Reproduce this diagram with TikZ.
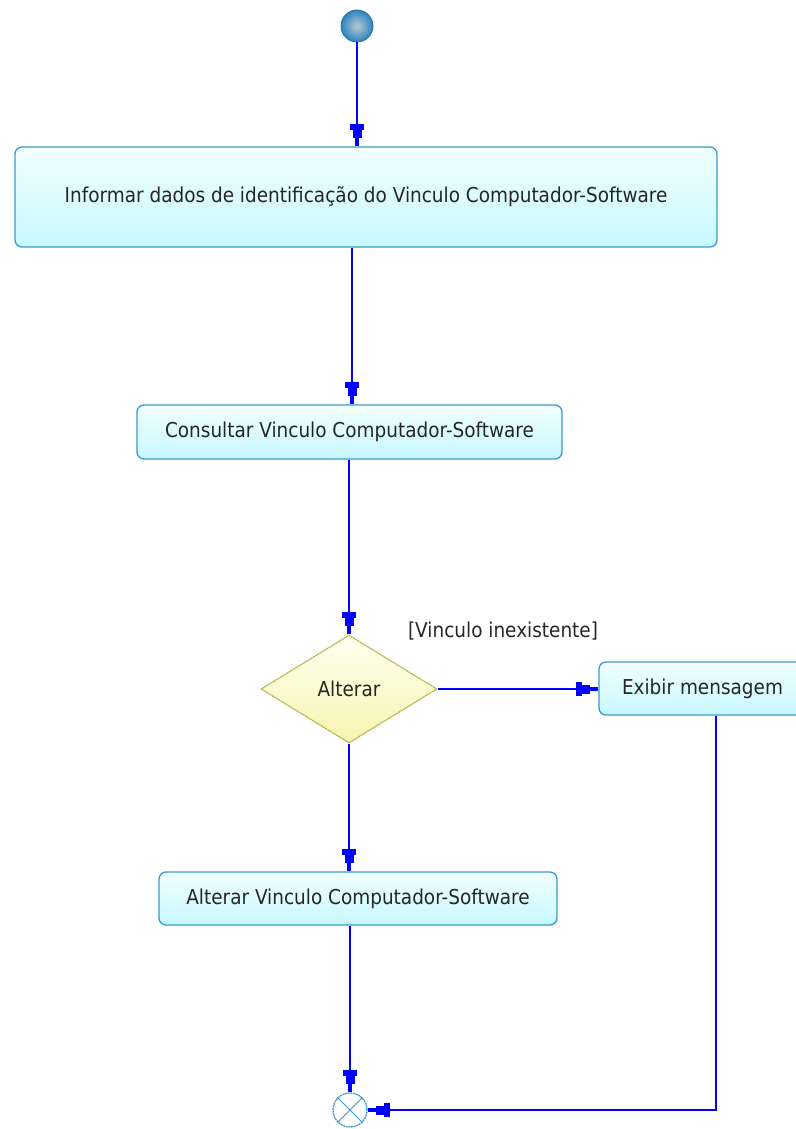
\documentclass[tikz,border=0pt]{standalone}
\usepackage{fontspec}
\setmainfont{DejaVu Sans}[FakeStretch=0.9]
\usetikzlibrary{arrows.meta,shapes.geometric}
\definecolor{boxline}{HTML}{3A9AD0}
\definecolor{boxtop}{HTML}{F2FFFF}
\definecolor{boxbot}{HTML}{C6F8FF}
\definecolor{dline}{HTML}{B4B44A}
\definecolor{dtop}{HTML}{FFFFF0}
\definecolor{dbot}{HTML}{F8F4B0}
\definecolor{flow}{HTML}{0000FF}
\definecolor{ballin}{HTML}{B8C8D2}
\definecolor{ballout}{HTML}{2A84C0}
\tikzset{
  umltip/.tip={Rectangle[length=6pt,width=14pt] Rectangle[length=8pt,width=9pt] Rectangle[length=8pt,width=4pt]},
  act/.style={draw=boxline, line width=1.3pt, rounded corners=7pt, top color=boxtop, bottom color=boxbot, inner sep=0pt, font=\fontsize{20.5}{23}\selectfont, text=black!85},
  dec/.style={diamond, draw=dline, line width=1.2pt, dashed, dash pattern=on 2pt off 0.6pt, top color=dtop, bottom color=dbot, inner sep=0pt, font=\fontsize{20.5}{23}\selectfont, text=black!85},
  flowline/.style={draw=flow, line width=1.8pt, -umltip},
  lbl/.style={font=\fontsize{20.5}{23}\selectfont, text=black!85}
}
\begin{document}
\begin{tikzpicture}[x=1pt,y=-1pt]
\useasboundingbox (0,0) rectangle (795,1129);
\node[circle, minimum size=32pt, inner sep=0pt, draw=ballout!85!black, line width=0.8pt, inner color=ballin, outer color=ballout] (start) at (357,26) {};
\node[act, minimum width=702pt, minimum height=100pt] (b1) at (366,197) {Informar dados de identificação do Vinculo Computador-Software};
\node[act, minimum width=425pt, minimum height=54pt] (b2) at (349.5,432) {Consultar Vinculo Computador-Software};
\node[dec, minimum width=176pt, minimum height=108pt] (d) at (349,689) {Alterar};
\node[act, minimum width=207pt, minimum height=53pt] (ex) at (702.5,688.5) {Exibir mensagem};
\node[act, minimum width=398pt, minimum height=53pt] (b3) at (358,898.5) {Alterar Vinculo Computador-Software};
\node[circle, minimum size=34pt, inner sep=0pt, draw=boxline, line width=1.3pt, dashed, dash pattern=on 2pt off 0.7pt] (fin) at (350,1110) {};
\draw[boxline, line width=1pt] (fin.north west) -- (fin.south east) (fin.north east) -- (fin.south west);
\node[lbl] (g) at (503,631) {[Vinculo inexistente]};
\coordinate (k1) at (352,300);
\coordinate (corner) at (716,1110);
\draw[flowline] (start.south) -- (start.south |- b1.north);
\draw[flowline] (b1.south -| k1) -- (b2.north -| k1);
\draw[flowline] (b2.south -| d.north) -- (d.north);
\draw[flowline] (d.east) -- (ex.west |- d.east);
\draw[flowline] (d.south) -- (d.south |- b3.north);
\draw[flowline] (b3.south -| fin.north) -- (fin.north);
\draw[flowline] (ex.south -| corner) -- (corner) -- (fin.east);
\end{tikzpicture}
\end{document}
